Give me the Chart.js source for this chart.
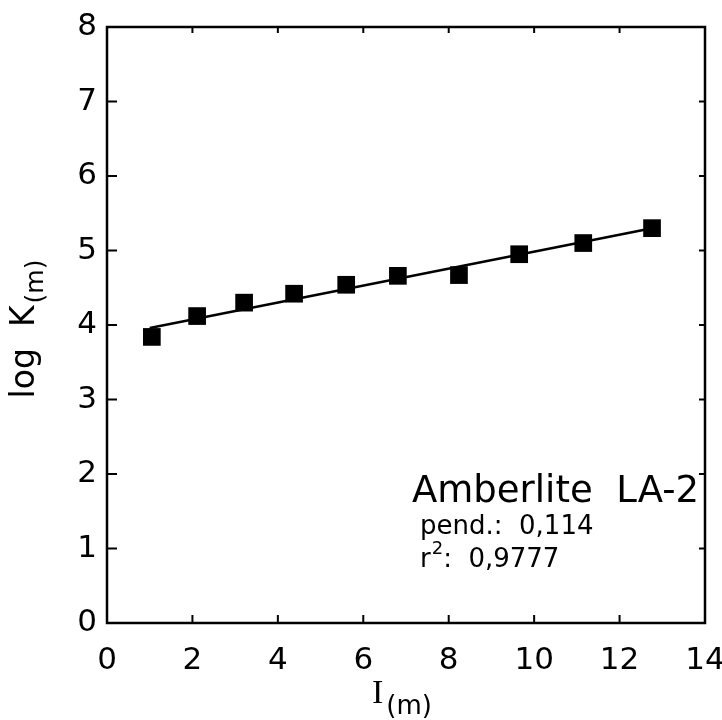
<!DOCTYPE html>
<html><head><meta charset="utf-8">
<script src="https://cdn.jsdelivr.net/npm/chart.js@4/dist/chart.umd.min.js"></script>
<style>html,body{margin:0;padding:0;background:#fff}#wrap{width:722px;height:720px}</style>
</head><body><div id="wrap"><canvas id="c" width="722" height="720"></canvas></div>
<script>
const xValues = [1.05, 2.11, 3.21, 4.38, 5.60, 6.81, 8.24, 9.65, 11.15, 12.76];
const yValues = [3.84, 4.12, 4.30, 4.42, 4.54, 4.66, 4.67, 4.95, 5.10, 5.30];
const fitX = [1.0, 12.76];
const fitY = [3.96, 5.30];
const xTicks = [0, 2, 4, 6, 8, 10, 12, 14];
const yTicks = [0, 1, 2, 3, 4, 5, 6, 7, 8];
const noteTitle = "Amberlite  LA-2";
const noteSlope = "pend.:  0,114";
const noteR2Label = "r";
const noteR2Sup = "2";
const noteR2Value = ":  0,9777";

const FONT = '"DejaVu Sans", sans-serif';

const frame = {
  id: 'frame',
  afterDraw(chart) {
    const {ctx, chartArea: a, scales: {x, y}} = chart;
    ctx.save();
    ctx.strokeStyle = '#000';
    ctx.lineWidth = 2.5;
    ctx.strokeRect(a.left, a.top, a.right - a.left, a.bottom - a.top);
    ctx.lineWidth = 2;
    ctx.beginPath();
    xTicks.forEach(v => {
      const px = x.getPixelForValue(v);
      ctx.moveTo(px, a.bottom); ctx.lineTo(px, a.bottom - 8);
      ctx.moveTo(px, a.top); ctx.lineTo(px, a.top + 6);
    });
    yTicks.forEach(v => {
      const py = y.getPixelForValue(v);
      ctx.moveTo(a.left, py); ctx.lineTo(a.left + 10, py);
      ctx.moveTo(a.right, py); ctx.lineTo(a.right - 6, py);
    });
    ctx.stroke();
    ctx.fillStyle = '#000';
    // annotation
    ctx.textBaseline = 'alphabetic';
    ctx.textAlign = 'left';
    ctx.font = '37px ' + FONT;
    ctx.fillText(noteTitle, 412, 502);
    ctx.font = '26px ' + FONT;
    ctx.fillText(noteSlope, 420, 534);
    ctx.fillText(noteR2Label, 420, 567);
    let w = ctx.measureText(noteR2Label).width;
    ctx.font = '18px ' + FONT;
    ctx.fillText(noteR2Sup, 420 + w + 1, 554);
    let w2 = ctx.measureText(noteR2Sup).width;
    ctx.font = '26px ' + FONT;
    ctx.fillText(noteR2Value, 420 + w + w2 + 1, 567);
    // x title
    ctx.font = '34px "Liberation Serif", serif';
    const iw = ctx.measureText('I').width;
    ctx.fillText('I', 372, 703);
    ctx.font = '26px ' + FONT;
    ctx.fillText('(m)', 372 + iw + 3, 714);
    // y title
    ctx.save();
    ctx.translate(34, 330);
    ctx.rotate(-Math.PI / 2);
    ctx.font = '33px ' + FONT;
    const lw = ctx.measureText('log  K').width;
    ctx.font = '25px ' + FONT;
    const sw = ctx.measureText('(m)').width;
    const s0 = -(lw + sw) / 2;
    ctx.font = '33px ' + FONT;
    ctx.fillText('log  K', s0, 0);
    ctx.font = '25px ' + FONT;
    ctx.fillText('(m)', s0 + lw + 2, 9);
    ctx.restore();
    ctx.restore();
  }
};

new Chart(document.getElementById('c'), {
  type: 'scatter',
  data: {
    datasets: [
      {
        data: fitX.map((v, i) => ({x: v, y: fitY[i]})),
        showLine: true, borderColor: '#000', borderWidth: 2.5,
        pointRadius: 0, order: 2
      },
      {
        data: xValues.map((v, i) => ({x: v, y: yValues[i]})),
        pointStyle: 'rect', pointRadius: 12.5,
        backgroundColor: '#000', borderColor: '#000', borderWidth: 0, order: 1
      }
    ]
  },
  options: {
    responsive: false, animation: false,
    layout: {padding: {left: 0, right: 17, top: 27, bottom: 0}},
    plugins: {legend: {display: false}, tooltip: {enabled: false}},
    scales: {
      x: {
        type: 'linear', min: 0, max: 14,
        afterBuildTicks: s => { s.ticks = xTicks.map(v => ({value: v})); },
        afterFit: s => { s.height = 97; s.paddingLeft = 0; s.paddingRight = 0; },
        grid: {display: false, drawTicks: false},
        border: {display: false},
        ticks: {color: '#000', font: {family: FONT, size: 31}, padding: 19, maxRotation: 0}
      },
      y: {
        type: 'linear', min: 0, max: 8,
        afterBuildTicks: s => { s.ticks = yTicks.map(v => ({value: v})); },
        afterFit: s => { s.width = 107; s.paddingTop = 0; s.paddingBottom = 0; },
        grid: {display: false, drawTicks: false},
        border: {display: false},
        ticks: {color: '#000', font: {family: FONT, size: 31}, padding: 10}
      }
    }
  },
  plugins: [frame]
});
</script>
</body></html>
